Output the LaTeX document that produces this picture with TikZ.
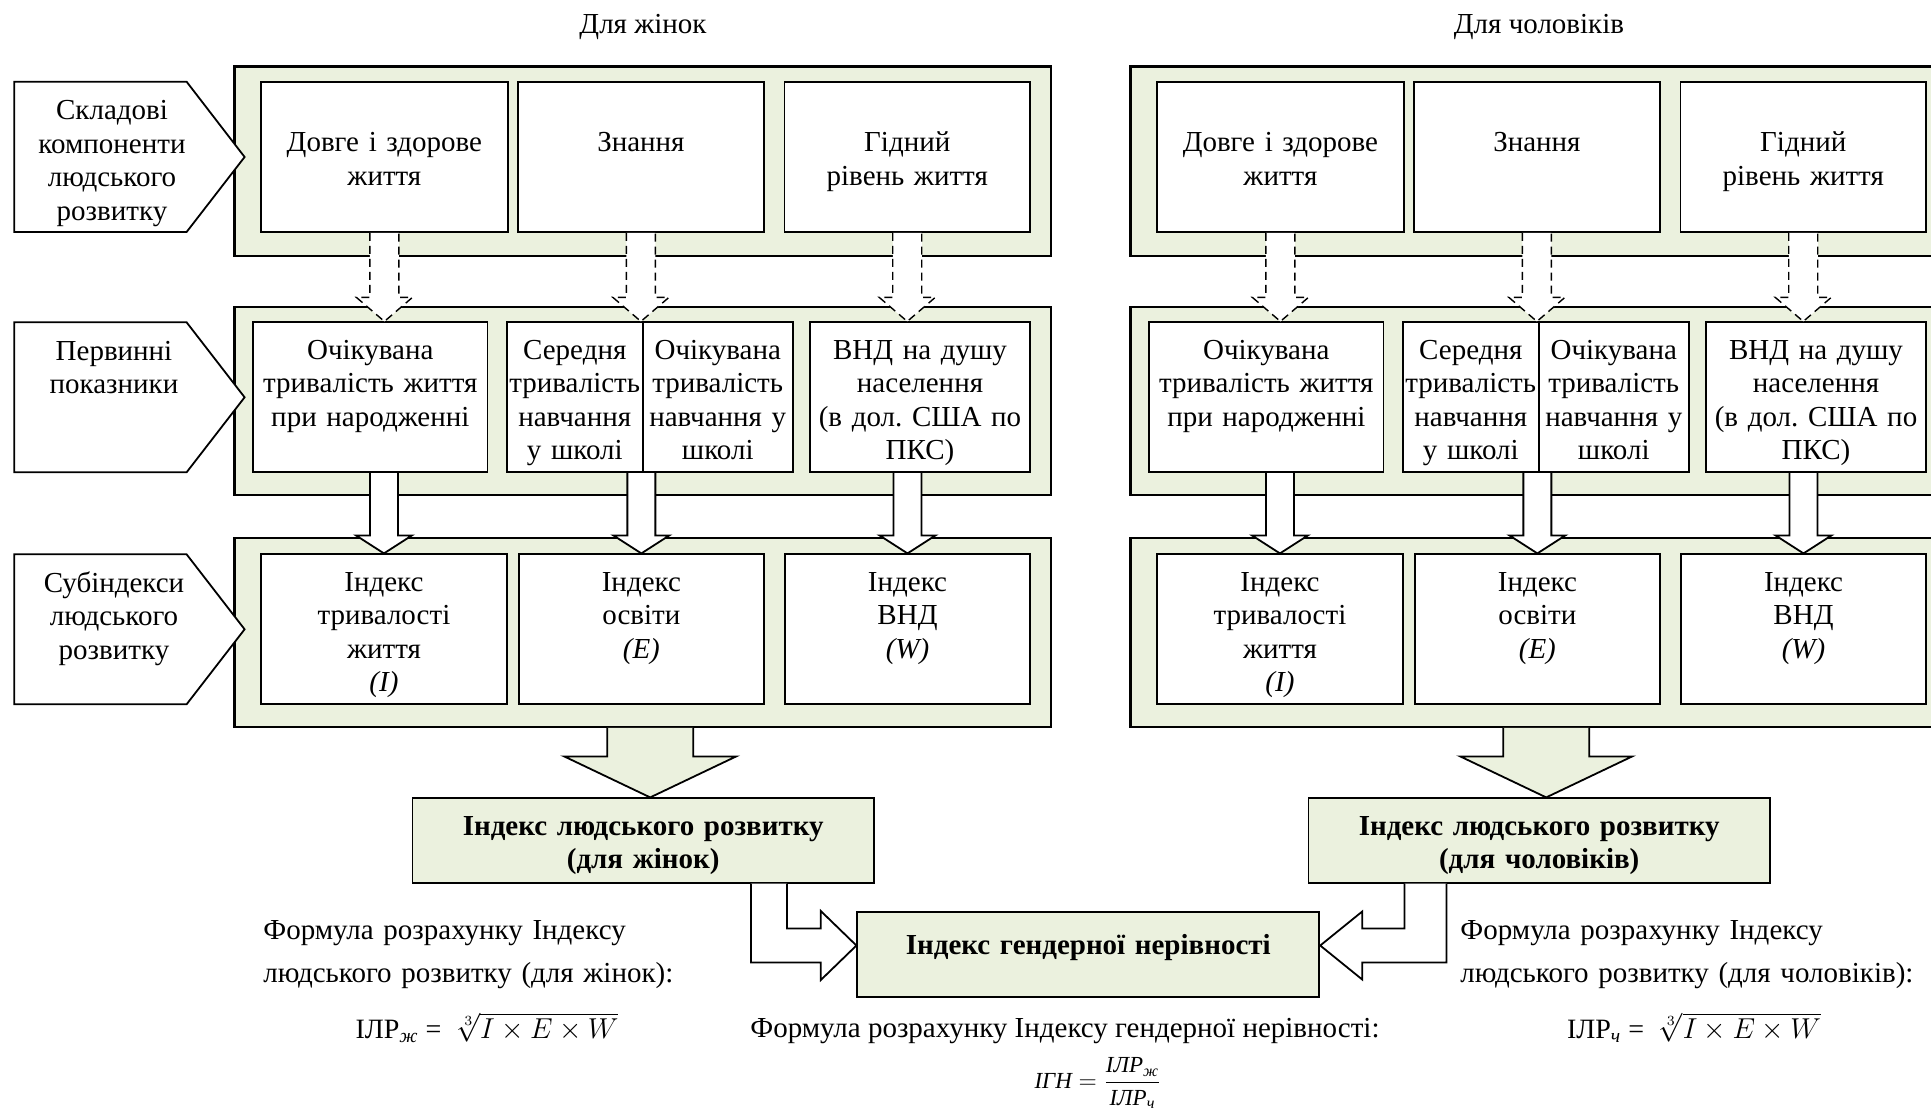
\documentclass[tikz,border=0pt]{standalone}
\usepackage{amsmath}
\usepackage{fontspec}
\setmainfont{Liberation Serif}
\usetikzlibrary{calc,fit}
\definecolor{leaf}{HTML}{EBF1DE}
\newcommand{\diafont}{\fontsize{14.5}{16.75}\selectfont}
\tikzset{fig/.style={x=0.5pt,y=-0.5pt,line join=miter,font=\diafont},
  panel/.style={draw,line width=1.1pt,fill=leaf,inner sep=0pt},
  cell/.style={draw,line width=0.9pt,fill=white,inner sep=0pt},
  hdi/.style={draw,line width=0.9pt,fill=leaf,inner sep=0pt},
  tag/.style={draw,line width=0.9pt,fill=white},
  txt/.style={inner sep=0pt,align=center,text width=130pt,anchor=base},
  note/.style={inner sep=0pt,align=left,text width=235pt,anchor=base west,font=\fontsize{14.5}{21.5}\selectfont},
  hollow/.style={draw,line width=0.9pt,fill=white},
  dashhollow/.style={hollow,line width=0.7pt,dash pattern=on 4pt off 2.5pt}}
% style, from, tip, shaft half, head half, head length
\newcommand{\vblock}[6]{%
  \draw[#1]($(#2)+(-#4,0)$)--($(#3)+(-#4,-#6)$)--($(#3)+(-#5,-#6)$)--(#3)
    --($(#3)+(#5,-#6)$)--($(#3)+(#4,-#6)$)--($(#2)+(#4,0)$);}
\begin{document}
\begin{tikzpicture}[fig]
  \useasboundingbox (0,0) rectangle (1931,1109);
  \clip (0,0) rectangle (1931,1109);
  \foreach \side/\dx/\who in {w/0/жінок,m/896/чоловіків}{
    \node (\side head) at (643+\dx,27) {Для \who};
    % panels
    \node[panel,fit={(234.4+\dx,66.5) (1051+\dx,256)}] (\side p1) {};
    \node[panel,fit={(234.4+\dx,306.7) (1051+\dx,495)}] (\side p2) {};
    \node[panel,fit={(234.4+\dx,538.3) (1051+\dx,726.7)}] (\side p3) {};
    % components
    \node[cell,fit={(261.2+\dx,81.7) (507.6+\dx,232)}] (\side11) {};
    \node[cell,fit={(517.8+\dx,81.7) (764+\dx,232)}] (\side12) {};
    \node[cell,fit={(784.5+\dx,81.7) (1030+\dx,232)}] (\side13) {};
    \node[txt] (\side t11) at ($(\side11.north)+(0,71)$) {Довге і здорове\\життя};
    \node[txt] (\side t12) at ($(\side12.north)+(0,71)$) {Знання};
    \node[txt] (\side t13) at ($(\side13.north)+(0,71)$) {Гідний\\рівень життя};
    % primary indicators
    \node[cell,fit={(253.1+\dx,322.3) (487.5+\dx,472.3)}] (\side21) {};
    \node[cell,fit={(506.7+\dx,322.3) (642.8+\dx,472.3)}] (\side22) {};
    \node[cell,fit={(642.8+\dx,322.3) (792.7+\dx,472.3)}] (\side23) {};
    \node[cell,fit={(810+\dx,322.3) (1030+\dx,472.3)}] (\side24) {};
    \node[txt] (\side t21) at ($(\side21.north)+(0,38)$) {Очікувана\\тривалість життя\\при народженні};
    \node[txt] (\side t22) at ($(\side22.north)+(0,38)$) {Середня\\тривалість\\навчання\\у школі};
    \node[txt] (\side t23) at ($(\side23.north)+(0,38)$) {Очікувана\\тривалість\\навчання у\\школі};
    \node[txt] (\side t24) at ($(\side24.north)+(0,38)$) {ВНД на душу\\населення\\(в дол.\ США по\\ПКС)};
    % subindices
    \node[cell,fit={(261.2+\dx,554.3) (506.7+\dx,704.3)}] (\side31) {};
    \node[cell,fit={(518.7+\dx,554.3) (764+\dx,704.3)}] (\side32) {};
    \node[cell,fit={(785+\dx,554.3) (1030+\dx,704.3)}] (\side33) {};
    \node[txt] (\side t31) at ($(\side31.north)+(0,38)$) {Індекс\\тривалості\\життя\\\textit{(I)}};
    \node[txt] (\side t32) at ($(\side32.north)+(0,38)$) {Індекс\\освіти\\\textit{(E)}};
    \node[txt] (\side t33) at ($(\side33.north)+(0,38)$) {Індекс\\ВНД\\\textit{(W)}};
    % arrows between rows
    \vblock{dashhollow}{\side11.south}{\side11.south |- \side21.north}{14.5}{28}{24}
    \vblock{dashhollow}{\side12.south}{\side12.south |- \side22.north}{14.5}{28}{24}
    \vblock{dashhollow}{\side13.south}{\side13.south |- \side24.north}{14.5}{28}{24}
    \vblock{hollow}{\side31.north |- \side21.south}{\side31.north}{14}{28}{18}
    \vblock{hollow}{\side32.north |- \side22.south}{\side32.north}{14}{28}{18}
    \vblock{hollow}{\side33.north |- \side24.south}{\side33.north}{14}{28}{18}
    % HDI box
    \node[hdi,fit={(412.4+\dx,798.3) (874+\dx,882.7)}] (\side h) {};
    \node[txt,text width=240pt,font=\diafont\bfseries] (\side ht) at ($(\side h.north)+(0,38)$) {Індекс людського розвитку\\(для \who)};
    \coordinate (\side tip) at ($(\side h.north)+(7,0)$);
    \vblock{hollow,fill=leaf}{\side tip |- \side p3.south}{\side tip}{43}{86}{41}
  }
  % row labels
  \draw[tag] (14.3,81.7)--(186.6,81.7)--(244.6,157)--(186.6,232)--(14.3,232)--cycle;
  \node[txt] (lt1) at (112,119.5) {Складові\\компоненти\\людського\\розвитку};
  \draw[tag] (14.3,322.3)--(186.6,322.3)--(244.6,397.3)--(186.6,472.3)--(14.3,472.3)--cycle;
  \node[txt] (lt2) at (114,360.3) {Первинні\\показники};
  \draw[tag] (14.3,554.3)--(186.6,554.3)--(244.6,629.3)--(186.6,704.3)--(14.3,704.3)--cycle;
  \node[txt] (lt3) at (114,592.3) {Субіндекси\\людського\\розвитку};
  % gender inequality index
  \node[hdi,fit={(857.3,912.3) (1319.3,996.7)}] (gi) {};
  \node[txt,text width=240pt,font=\diafont\bfseries] (git) at ($(gi.north)+(0,43)$) {Індекс гендерної нерівності};
  \coordinate (bw) at ($(wh.south east)+(-106,0)$);
  \coordinate (bwt) at ($(gi.west)+(0,-9)$);
  \draw[hollow]($(bw)+(-18,0)$)--($(bw |- bwt)+(-18,17)$)--($(bwt)+(-35.6,17)$)--($(bwt)+(-35.6,34.5)$)--(bwt)
    --($(bwt)+(-35.6,-34.5)$)--($(bwt)+(-35.6,-17)$)--($(bw |- bwt)+(18,-17)$)--($(bw)+(18,0)$);
  \coordinate (bm) at ($(mh.south west)+(118,0)$);
  \coordinate (bmt) at ($(gi.east)+(0,-9)$);
  \draw[hollow]($(bm)+(21,0)$)--($(bm |- bmt)+(21,17)$)--($(bmt)+(42,17)$)--($(bmt)+(42,34)$)--(bmt)
    --($(bmt)+(42,-34)$)--($(bmt)+(42,-17)$)--($(bm |- bmt)+(-21,-17)$)--($(bm)+(-21,0)$);
  % formulas
  \node[note] (fw) at (263,939) {Формула розрахунку Індексу\\людського розвитку (для жінок):};
  \node[note] (fm) at (1460,939) {Формула розрахунку Індексу\\людського розвитку (для чоловіків):};
  \node[inner sep=0pt,anchor=base] (rw) at (487,1038) {\fontsize{14}{16}\selectfont ІЛР$_{\textit{ж}}$ = \;$\sqrt[3]{I\times E\times W}$};
  \node[inner sep=0pt,anchor=base] (rm) at (1694,1038) {\fontsize{14}{16}\selectfont ІЛР$_{\textit{ч}}$ = \;$\sqrt[3]{I\times E\times W}$};
  \node[inner sep=0pt,anchor=base west] (fg) at (750,1037) {Формула розрахунку Індексу гендерної нерівності:};
  \node[inner sep=0pt] (rg) at (1098,1083) {\fontsize{11.5}{13}\selectfont $\textit{ІГН} = \dfrac{\textit{ІЛР}_{\textit{ж}}}{\textit{ІЛР}_{\textit{ч}}}$};
\end{tikzpicture}
\end{document}
